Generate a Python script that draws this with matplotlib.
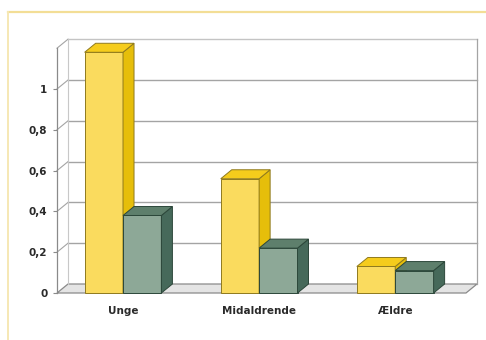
import matplotlib.pyplot as plt
import matplotlib.patches as mpatches
from matplotlib.lines import Line2D
import numpy as np

categories = ["Unge", "Midaldrende", "Ældre"]
serie_a = [1.18, 0.56, 0.13]   # gul
serie_b = [0.38, 0.22, 0.11]   # grøn
yticks = [0, 0.2, 0.4, 0.6, 0.8, 1.0]
ytick_labels = ["0", "0,2", "0,4", "0,6", "0,8", "1"]

W, H = 486, 340
fig = plt.figure(figsize=(W / 100, H / 100), dpi=100)
fig.patch.set_facecolor("white")

# axes placed so the front floor sits where the reference has it
ax = fig.add_axes([57 / W, (H - 293) / H, (466 - 57) / W, 244.8 / H])
xl, xr = -0.485, 2.52
ytop = 1.2
ax.set_xlim(xl, xr)
ax.set_ylim(0, ytop)
ax.patch.set_alpha(0)
for s in ax.spines.values():
    s.set_visible(False)

# depth of the fake 3d in data units
dx = 11 / 136
dy = 9 / 204
grid_c = "#a4a4a4"

# floor
floor = mpatches.Polygon([(xl, 0), (xr, 0), (xr + dx, dy), (xl + dx, dy)],
                         closed=True, facecolor="#e4e4e4", edgecolor="#8a8a8a",
                         lw=0.9, clip_on=False, zorder=1)
ax.add_patch(floor)

# back wall and side wall lines
for y in yticks[1:] + [ytop]:
    c = "#c4c4c4" if y == ytop else grid_c
    ax.add_line(Line2D([xl + dx, xr + dx], [y + dy, y + dy], color=c, lw=1.0,
                       clip_on=False, zorder=1))
    ax.add_line(Line2D([xl, xl + dx], [y, y + dy], color=grid_c, lw=0.8,
                       clip_on=False, zorder=1))
ax.add_line(Line2D([xl + dx, xl + dx], [dy, ytop + dy], color="#c8c8c8", lw=0.8,
                   clip_on=False, zorder=1))
ax.add_line(Line2D([xr + dx, xr + dx], [dy, ytop + dy], color=grid_c, lw=0.9,
                   clip_on=False, zorder=1))
ax.add_line(Line2D([xl, xl], [0, ytop], color="#8a8a8a", lw=0.9,
                   clip_on=False, zorder=2))


def bar3d(x0, w, h, front, side, top, edge):
    ax.bar(x0, h, w, align="edge", color=front, edgecolor=edge, lw=0.7, zorder=3,
           clip_on=False)
    ax.add_patch(mpatches.Polygon([(x0 + w, 0), (x0 + w + dx, dy), (x0 + w + dx, h + dy), (x0 + w, h)],
                                  closed=True, facecolor=side, edgecolor=edge, lw=0.7,
                                  zorder=3, clip_on=False))
    ax.add_patch(mpatches.Polygon([(x0, h), (x0 + w, h), (x0 + w + dx, h + dy), (x0 + dx, h + dy)],
                                  closed=True, facecolor=top, edgecolor=edge, lw=0.7,
                                  zorder=3, clip_on=False))


bw = 0.282
x = np.arange(len(categories))
for i in x:
    bar3d(i - bw, bw, serie_a[i], "#FADB5E", "#E6BE0A", "#F5CC1C", "#8f7a1e")
    bar3d(i, bw, serie_b[i], "#8DA897", "#46695A", "#5E7F6C", "#2c473a")

ax.set_yticks(yticks)
ax.set_yticklabels(ytick_labels)
ax.set_xticks(x)
ax.set_xticklabels(categories)
ax.tick_params(axis="y", length=3, width=0.8, color="#8a8a8a", pad=4,
               labelsize=7.5, labelcolor="#2a2a2a")
ax.tick_params(axis="x", length=0, pad=9, labelsize=7.5, labelcolor="#2a2a2a")
for lab in ax.get_xticklabels() + ax.get_yticklabels():
    lab.set_fontweight("bold")

# pale yellow frame of the scanned figure
fig.add_artist(Line2D([8 / W, 1], [1 - 12 / H, 1 - 12 / H], color="#F3DE96", lw=1.6))
fig.add_artist(Line2D([8 / W, 8 / W], [0, 1 - 12 / H], color="#F6E8B4", lw=1.4))

fig.savefig("out.png", dpi=100)
